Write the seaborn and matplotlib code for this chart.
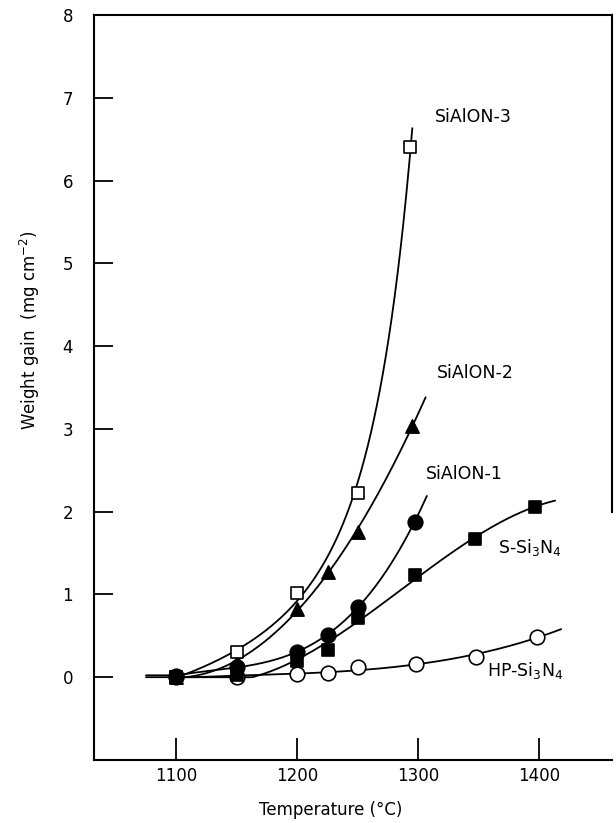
import numpy as np
import pandas as pd
import matplotlib
matplotlib.use("Agg")
import matplotlib.pyplot as plt
import seaborn as sns

# ---------------- data ----------------
sialon3_T = [1100, 1150, 1200, 1250, 1293]
sialon3_w = [0.00, 0.30, 1.02, 2.22, 6.40]

sialon2_T = [1100, 1150, 1200, 1225, 1250, 1295]
sialon2_w = [0.00, 0.18, 0.83, 1.27, 1.76, 3.04]

sialon1_T = [1100, 1150, 1200, 1225, 1250, 1297]
sialon1_w = [0.02, 0.12, 0.31, 0.51, 0.85, 1.88]

ssi_T = [1100, 1150, 1200, 1225, 1250, 1297, 1347, 1396]
ssi_w = [0.00, 0.03, 0.20, 0.33, 0.71, 1.23, 1.67, 2.06]

hpsi_T = [1100, 1150, 1200, 1225, 1250, 1298, 1348, 1398]
hpsi_w = [0.00, 0.00, 0.04, 0.05, 0.12, 0.16, 0.25, 0.49]

series_names = ["SiAlON-3", "SiAlON-2", "SiAlON-1", "S-Si$_3$N$_4$", "HP-Si$_3$N$_4$"]
# where each hand-drawn curve starts / ends (temperature)
curve_start = [1100, 1100, 1100, 1075, 1075]
curve_end = [1295, 1306, 1307, 1413, 1418]
# smoothing fit used for each curve
fit_log = [True, False, False, False, False]
fit_deg = [3, 3, 3, 3, 3]

x_ticks = [1100, 1200, 1300, 1400]
y_ticks = [0, 1, 2, 3, 4, 5, 6, 7, 8]


def smooth_curve(T, w, tt, use_log, deg, c=0.3):
    """Least-squares polynomial fit (optionally of log(w + c)) against temperature."""
    T = np.asarray(T, float)
    w = np.asarray(w, float)
    t0 = T[0]
    tt = np.asarray(tt, float)
    te = np.maximum(tt, t0)
    if use_log:
        coef = np.polyfit(T - t0, np.log(w + c), deg)
        out = np.exp(np.polyval(coef, te - t0)) - c
    else:
        coef = np.polyfit(T - t0, w, deg)
        out = np.polyval(coef, te - t0)
    return np.clip(out, 0, None)


sns.set_style("ticks")
plt.rcParams["font.family"] = ["DejaVu Sans"]
plt.rcParams["mathtext.fontset"] = "dejavusans"
for key in ["text.color", "axes.labelcolor", "xtick.color", "ytick.color", "axes.edgecolor"]:
    plt.rcParams[key] = "black"

W, H = 616, 823
fig = plt.figure(figsize=(W / 100, H / 100), dpi=100)
ax = fig.add_axes([94 / W, 1 - 760 / H, (612 - 94) / W, (760 - 15) / H])

all_T = [sialon3_T, sialon2_T, sialon1_T, ssi_T, hpsi_T]
all_w = [sialon3_w, sialon2_w, sialon1_w, ssi_w, hpsi_w]
markers = ["s", "^", "o", "s", "o"]
msizes = [8.8, 9.5, 10.5, 9.2, 10.5]
faces = ["white", "black", "black", "black", "white"]
zorders = [6, 5, 7, 4, 3]

# curves
for T, w, t0, t1, lg, dg in zip(all_T, all_w, curve_start, curve_end, fit_log, fit_deg):
    tt = np.linspace(t0, t1, 400)
    ww = smooth_curve(T, w, tt, lg, dg)
    cdf = pd.DataFrame({"T": tt, "w": ww})
    sns.lineplot(data=cdf, x="T", y="w", ax=ax, color="black", lw=1.3,
                 sort=False, estimator=None, zorder=2)

# markers
for T, w, mk, ms, fc, zo in zip(all_T, all_w, markers, msizes, faces, zorders):
    df = pd.DataFrame({"T": T, "w": w})
    sns.scatterplot(data=df, x="T", y="w", ax=ax, marker=mk, s=ms**2,
                    facecolor=fc, edgecolor="black", linewidth=1.2, zorder=zo)

# labels
label_pos = [(1313.5, 6.71), (1315, 3.61), (1306, 2.39), (1365.5, 1.50), (1357, 0.01)]
for name, (lx, ly) in zip(series_names, label_pos):
    ax.text(lx, ly, name, fontsize=12.5, ha="left", va="baseline", color="black")

ax.set_xlim(1032, 1460)
ax.set_ylim(-1, 8)
ax.set_xticks(x_ticks)
ax.set_yticks(y_ticks)
ax.tick_params(axis="both", direction="in", width=1.3, color="black",
               labelsize=12, labelcolor="black")
ax.tick_params(axis="y", length=14, pad=15)
ax.tick_params(axis="x", length=16, pad=5)
ax.tick_params(top=False, right=False)

for side in ["left", "bottom", "top", "right"]:
    ax.spines[side].set_linewidth(1.5)
    ax.spines[side].set_color("black")
ax.spines["right"].set_bounds(2.0, 8)

ax.set_xlabel("Temperature (°C)", fontsize=12, color="black")
ax.set_ylabel("Weight gain  (mg cm$^{-2}$)", fontsize=12, color="black")
ax.xaxis.set_label_coords((331 - 94) / (612 - 94), (760 - 810) / (760 - 15))
ax.yaxis.set_label_coords((30 - 94) / (612 - 94), (760 - 330) / (760 - 15))
ax.xaxis.label.set_va("center")
ax.yaxis.label.set_va("center")

fig.savefig("out.png", dpi=100)
